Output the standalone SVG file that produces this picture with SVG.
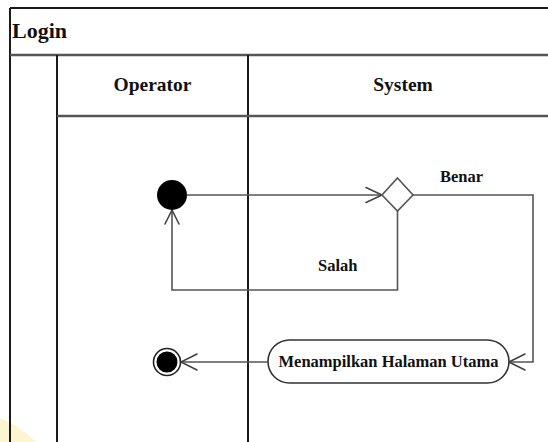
<svg xmlns="http://www.w3.org/2000/svg" width="548" height="442" viewBox="0 0 548 442">
  <defs>
    <style>
      .lbl { font-family: "Liberation Serif", "Times New Roman", serif; font-weight: bold; fill: #111; }
      .frame { stroke: #1a1a1a; stroke-width: 2; fill: none; }
      .sep { stroke: #555; stroke-width: 2.5; fill: none; }
      .edge { stroke: #555; stroke-width: 1.6; fill: none; }
      .head { stroke: #444; stroke-width: 1.6; fill: none; stroke-linecap: round; }
    </style>
  </defs>
  <rect x="0" y="0" width="548" height="442" fill="#ffffff"/>
  <!-- faint yellow tint in the lower-left corner -->
  <path d="M0,418 Q20,426 36,442 L0,442 Z" fill="#fbf3c4" opacity="0.8"/>

  <!-- swimlane frame -->
  <g id="frame">
    <line class="frame" x1="10" y1="8" x2="548" y2="8"/>
    <line class="frame" x1="10" y1="8" x2="10" y2="442"/>
    <line class="sep" x1="10" y1="55" x2="548" y2="55"/>
    <line class="frame" x1="57" y1="55" x2="57" y2="442"/>
    <line class="frame" x1="248" y1="55" x2="248" y2="442"/>
    <line class="sep" x1="57" y1="116" x2="548" y2="116" stroke-width="2"/>
    <text class="lbl" x="12" y="38" font-size="22">Login</text>
    <text class="lbl" x="152.5" y="91" font-size="19.5" text-anchor="middle">Operator</text>
    <text class="lbl" x="403" y="91" font-size="19.5" text-anchor="middle">System</text>
  </g>

  <!-- connectors -->
  <g id="connectors">
    <!-- start to decision -->
    <line class="edge" x1="187" y1="195" x2="382" y2="195"/>
    <polyline class="head" points="366,187.5 382,195 366,202.5"/>
    <!-- decision: Benar -->
    <polyline class="edge" points="413,195 533,195 533,362 509,362"/>
    <polyline class="head" points="525,354 509,362 525,370"/>
    <text class="lbl" x="440" y="182" font-size="16.5">Benar</text>
    <!-- decision: Salah -->
    <polyline class="edge" points="397.5,211 397.5,290 172,290 172,210"/>
    <polyline class="head" points="165,224 172,210 179,224"/>
    <text class="lbl" x="318" y="271" font-size="16.5">Salah</text>
    <!-- activity to end -->
    <line class="edge" x1="268" y1="362" x2="181" y2="362"/>
    <polyline class="head" points="197,354 181,362 197,370"/>
  </g>

  <g id="start">
    <circle cx="172" cy="195" r="15" fill="#000"/>
  </g>

  <g id="decision">
    <polygon points="397.5,178 413,195 397.5,211 382,195" fill="#fff" stroke="#555" stroke-width="1.6"/>
  </g>

  <g id="activity">
    <rect x="268" y="340" width="241" height="43" rx="21.5" ry="21.5" fill="#fff" stroke="#333" stroke-width="1.6"/>
    <text class="lbl" x="388.5" y="366.5" font-size="16.5" text-anchor="middle">Menampilkan Halaman Utama</text>
  </g>

  <g id="end">
    <circle cx="167" cy="362" r="13.5" fill="#fff" stroke="#222" stroke-width="1.6"/>
    <circle cx="167" cy="362" r="10.5" fill="#000"/>
  </g>
</svg>
